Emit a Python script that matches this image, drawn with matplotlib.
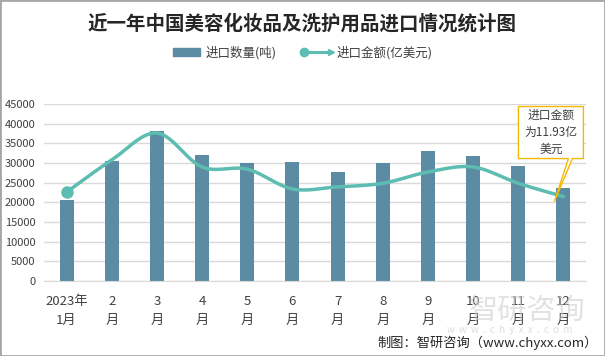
import numpy as np
import matplotlib
matplotlib.use("Agg")
import matplotlib.pyplot as plt
from matplotlib.lines import Line2D
from matplotlib.patches import Patch, Polygon, Rectangle
from matplotlib.legend_handler import HandlerBase
from matplotlib.transforms import ScaledTranslation

plt.rcParams['font.family'] = ['Noto Sans CJK SC', 'DejaVu Sans']

# data
months = ["2023年\n1月", "2\n月", "3\n月", "4\n月", "5\n月", "6\n月",
          "7\n月", "8\n月", "9\n月", "10\n月", "11\n月", "12\n月"]
quantity = [20600, 30500, 38200, 32100, 30000, 30300, 27700, 30000, 33000, 31800, 29200, 23600]
amount = [12.55, 17.1, 20.9, 16.1, 15.8, 13.0, 13.3, 13.8, 15.4, 16.1, 13.8, 11.93]

bar_color = "#5b8ca3"
line_color = "#5dbdb2"
text_color = "#404040"


def smooth(xs, ys, n=30):
    # Catmull-Rom style bezier through the points, like a spreadsheet smooth line
    xs = np.asarray(xs, float)
    ys = np.asarray(ys, float)
    px = np.concatenate([[xs[0]], xs, [xs[-1]]])
    py = np.concatenate([[ys[0]], ys, [ys[-1]]])
    outx, outy = [], []
    t = np.linspace(0, 1, n)
    for i in range(1, len(px) - 2):
        p0x, p1x, p2x, p3x = px[i], px[i] + (px[i + 1] - px[i - 1]) / 6, px[i + 1] - (px[i + 2] - px[i]) / 6, px[i + 1]
        p0y, p1y, p2y, p3y = py[i], py[i] + (py[i + 1] - py[i - 1]) / 6, py[i + 1] - (py[i + 2] - py[i]) / 6, py[i + 1]
        bx = (1 - t) ** 3 * p0x + 3 * (1 - t) ** 2 * t * p1x + 3 * (1 - t) * t ** 2 * p2x + t ** 3 * p3x
        by = (1 - t) ** 3 * p0y + 3 * (1 - t) ** 2 * t * p1y + 3 * (1 - t) * t ** 2 * p2y + t ** 3 * p3y
        outx.extend(bx)
        outy.extend(by)
    return np.array(outx), np.array(outy)


class DotArrowHandler(HandlerBase):
    def create_artists(self, legend, orig_handle, xdescent, ydescent,
                       width, height, fontsize, trans):
        y = height / 2 - ydescent
        x0, x1 = -xdescent, width - xdescent
        line = Line2D([x0, x1], [y, y], color=line_color, lw=2.2)
        dot = Line2D([x0], [y], marker='o', ms=6, color=line_color, ls='none')
        arr = Line2D([x1], [y], marker='>', ms=5, color=line_color, ls='none')
        for a in (line, dot, arr):
            a.set_transform(trans)
        return [line, dot, arr]


fig = plt.figure(figsize=(6.05, 3.56), dpi=100)
ax = fig.add_axes([44 / 605, 1 - 281 / 356, 542 / 605, 177 / 356])
ax2 = ax.twinx()

x = np.arange(len(months))
ax.bar(x, quantity, width=0.31, color=bar_color, zorder=2)
ax.set_xlim(-0.5, 11.5)
ax.set_ylim(0, 45000)
ax.set_yticks(np.arange(0, 45001, 5000))
ax.yaxis.grid(True, color="#d9d9d9", lw=1)
ax.set_axisbelow(True)
for s in ["top", "right", "left"]:
    ax.spines[s].set_visible(False)
ax.spines["bottom"].set_color("#d9d9d9")
ax.tick_params(axis="y", length=0, labelsize=8, colors=text_color, pad=6)
ax.tick_params(axis="x", length=0, labelsize=9.5, colors=text_color, pad=10)
ax.set_xticks(x)
ax.set_xticklabels(months, linespacing=1.6)

sx, sy = smooth(x, amount)
ax2.plot(sx, sy, color=line_color, lw=2.5, zorder=3, solid_capstyle="round")
ax2.plot([x[0]], [amount[0]], marker='o', ms=8, color=line_color, zorder=4)
ax2.set_ylim(0, 25)
ax2.axis("off")

# callout for the last point
anchor = ScaledTranslation(x[-1], amount[-1], ax2.transData)
tr = fig.dpi_scale_trans + anchor
verts = np.array([(-45, 90), (20, 90), (20, 38), (9, 38), (-9, -5), (5, 38), (-45, 38)]) / 100
ax2.add_patch(Polygon(verts, closed=True, transform=tr, facecolor="white",
                      edgecolor="#f5b800", lw=1, zorder=5, clip_on=False))
ax2.text(-0.125, 0.64, "进口金额\n为%.2f亿\n美元" % amount[-1], transform=tr,
         ha="center", va="center", fontsize=8.5, color=text_color,
         linespacing=1.4, zorder=6)

fig.text(0.5, 1 - 24 / 356, "近一年中国美容化妆品及洗护用品进口情况统计图",
         ha="center", va="center", fontsize=14, fontweight="bold", color="#262626")

handles = [Patch(color=bar_color), Line2D([], [], color=line_color)]
fig.legend(handles, ["进口数量(吨)", "进口金额(亿美元)"], loc="center",
           bbox_to_anchor=(0.5, 1 - 53 / 356), ncol=2, frameon=False,
           fontsize=9, handlelength=2.2, handleheight=0.6, columnspacing=2.2,
           handletextpad=0.4, labelcolor=text_color,
           handler_map={handles[1]: DotArrowHandler()})

# watermark (sits under the month labels, as in the source image)
fig.text(527 / 605, 1 - 311 / 356, "智研咨询", ha="center", va="center",
         fontsize=21, color="#d0d0d0", alpha=0.6, zorder=0)
fig.text(510 / 605, 1 - 330 / 356, "w  w  w  .  c  h  y  x  x  .  c  o  m", ha="center", va="center",
         fontsize=7, color="#d0d0d0", alpha=0.7, zorder=0)

fig.text(598 / 605, 1 - 343 / 356, "制图：智研咨询（www.chyxx.com）", ha="right", va="center",
         fontsize=9.5, color="#262626")

fig.patches.append(Rectangle((0, 0), 1, 1, transform=fig.transFigure, fill=False,
                             edgecolor="#a6a6a6", lw=2))

fig.savefig("out.png", dpi=100)
